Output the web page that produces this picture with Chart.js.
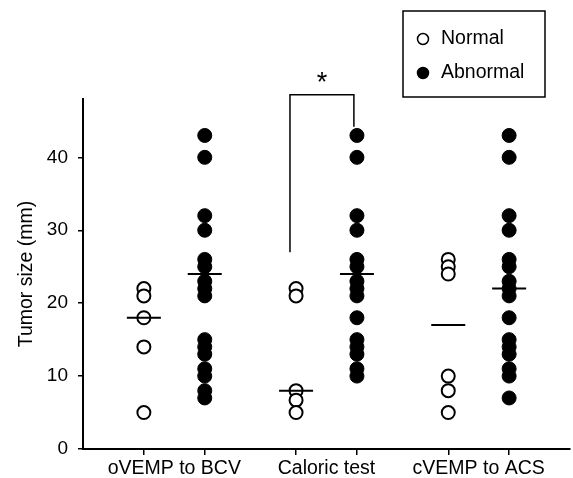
<!DOCTYPE html>
<html>
<head>
<meta charset="utf-8">
<script src="https://cdn.jsdelivr.net/npm/chart.js@4.4.1/dist/chart.umd.min.js"></script>
<style>
  html, body { margin: 0; padding: 0; background: #fff; }
</style>
</head>
<body>
<canvas id="tumorChart" width="573" height="478"></canvas>
<script>
// categories and column positions on the x scale
var groupLabels = ['oVEMP to BCV', 'Caloric test', 'cVEMP to ACS'];
var normalX = [1, 3.5, 6];
var abnormalX = [2, 4.5, 7];

// tumor sizes (mm)
var normalOVEMP = [22, 21, 18, 14, 5];
var abnormalOVEMP = [43, 40, 32, 30, 26, 25, 23, 22, 21, 15, 14, 13, 11, 10, 8, 7];
var normalCaloric = [22, 21, 8, 6.7, 5];
var abnormalCaloric = [43, 40, 32, 30, 26, 25, 23, 22, 21, 18, 15, 14, 13, 11, 10];
var normalCVEMP = [26, 25, 24, 10, 8, 5];
var abnormalCVEMP = [43, 40, 32, 30, 26, 25, 23, 22, 21, 18, 15, 14, 13, 11, 10, 7];

// median bars
var medianNormal = [18, 8, 17];
var medianAbnormal = [24, 24, 22];

var yTicks = [0, 10, 20, 30, 40];

// significance bracket (data units)
var bracketX = [3.4, 3.4, 4.45, 4.45];
var bracketY = [27, 48.6, 48.6, 44.2];
var sigLabel = '*';

function toPoints(x, values) {
  return values.map(function(v) { return { x: x, y: v }; });
}

var normalGroups = [normalOVEMP, normalCaloric, normalCVEMP];
var abnormalGroups = [abnormalOVEMP, abnormalCaloric, abnormalCVEMP];
var normalPoints = [], abnormalPoints = [], medianPoints = [];
for (var i = 0; i < groupLabels.length; i++) {
  normalPoints = normalPoints.concat(toPoints(normalX[i], normalGroups[i]));
  abnormalPoints = abnormalPoints.concat(toPoints(abnormalX[i], abnormalGroups[i]));
  medianPoints.push({ x: normalX[i], y: medianNormal[i] });
  medianPoints.push({ x: abnormalX[i], y: medianAbnormal[i] });
}

var groupCenters = normalX.map(function(x, i) { return (x + abnormalX[i]) / 2; });
var xTickValues = normalX.concat(abnormalX, groupCenters).sort(function(a, b) { return a - b; });

var bracketPoints = bracketX.map(function(x, i) { return { x: x, y: bracketY[i] }; });

var fontFamily = '"Liberation Sans", Arial, Helvetica, sans-serif';
Chart.defaults.font.family = fontFamily;
Chart.defaults.color = '#000';

var sigPlugin = {
  id: 'sigPlugin',
  afterDatasetsDraw: function(chart) {
    var ctx = chart.ctx;
    var xs = chart.scales.x, ys = chart.scales.y;
    var cx = xs.getPixelForValue((bracketX[0] + bracketX[2]) / 2);
    var cy = ys.getPixelForValue(bracketY[1]);
    ctx.save();
    ctx.fillStyle = '#000';
    ctx.font = '27px ' + fontFamily;
    ctx.textAlign = 'center';
    ctx.textBaseline = 'alphabetic';
    ctx.fillText(sigLabel, cx, cy - 4);
    ctx.restore();
  }
};

var legendPlugin = {
  id: 'boxLegend',
  afterDraw: function(chart) {
    var ctx = chart.ctx;
    var sets = [chart.data.datasets[1], chart.data.datasets[2]];
    ctx.save();
    ctx.strokeStyle = '#000';
    ctx.lineWidth = 1.5;
    ctx.strokeRect(403, 11, 142, 86);
    ctx.font = '19.5px ' + fontFamily;
    ctx.textBaseline = 'middle';
    ctx.textAlign = 'left';
    sets.forEach(function(ds, k) {
      var y = 39 + k * 34;
      ctx.beginPath();
      ctx.arc(423, y, 5.5, 0, Math.PI * 2);
      ctx.fillStyle = ds.backgroundColor;
      ctx.fill();
      ctx.lineWidth = 1.5;
      ctx.strokeStyle = '#000';
      ctx.stroke();
      ctx.fillStyle = '#000';
      ctx.fillText(ds.label, 441, y);
    });
    ctx.restore();
  }
};

new Chart(document.getElementById('tumorChart'), {
  type: 'scatter',
  data: {
    datasets: [
      {
        label: 'Median',
        data: medianPoints,
        pointStyle: 'line',
        pointRadius: 17,
        borderColor: '#000',
        borderWidth: 2,
        order: 0
      },
      {
        label: 'Normal',
        data: normalPoints,
        pointStyle: 'circle',
        pointRadius: 6.5,
        backgroundColor: '#fff',
        borderColor: '#000',
        borderWidth: 2,
        order: 1
      },
      {
        label: 'Abnormal',
        data: abnormalPoints,
        pointStyle: 'circle',
        pointRadius: 7,
        backgroundColor: '#000',
        borderColor: '#000',
        borderWidth: 1,
        order: 2
      },
      {
        type: 'line',
        label: 'bracket',
        data: bracketPoints,
        showLine: true,
        fill: false,
        pointRadius: 0,
        borderColor: '#000',
        borderWidth: 1.5,
        clip: false,
        order: 3
      }
    ]
  },
  options: {
    responsive: false,
    animation: false,
    devicePixelRatio: 1,
    layout: { autoPadding: false, padding: { top: 99, right: 3, left: 0, bottom: 0 } },
    plugins: {
      legend: { display: false },
      tooltip: { enabled: false }
    },
    scales: {
      x: {
        type: 'linear',
        min: 0,
        max: 8,
        afterBuildTicks: function(scale) {
          scale.ticks = xTickValues.map(function(v) { return { value: v }; });
        },
        afterFit: function(scale) { scale.height = 29; },
        ticks: {
          autoSkip: false,
          maxRotation: 0,
          padding: 2,
          font: { size: 19.5 },
          color: '#000',
          callback: function(value) {
            var idx = groupCenters.indexOf(value);
            return idx >= 0 ? groupLabels[idx] : '';
          }
        },
        grid: {
          drawOnChartArea: false,
          drawTicks: true,
          tickLength: 6,
          lineWidth: 1.5,
          color: function(ctx) {
            return (ctx.tick && groupCenters.indexOf(ctx.tick.value) >= 0) ? 'rgba(0,0,0,0)' : '#000';
          }
        },
        border: { display: true, color: '#000', width: 2 }
      },
      y: {
        min: 0,
        max: 48,
        afterBuildTicks: function(scale) {
          scale.ticks = yTicks.map(function(v) { return { value: v }; });
        },
        afterFit: function(scale) { scale.width = 83; },
        ticks: {
          padding: 10,
          font: { size: 19 },
          color: '#000'
        },
        grid: {
          drawOnChartArea: false,
          drawTicks: true,
          tickLength: 5,
          lineWidth: 1.5,
          color: '#000'
        },
        border: { display: true, color: '#000', width: 2 },
        title: {
          display: true,
          text: 'Tumor size (mm)',
          font: { size: 19.5 },
          color: '#000',
          padding: { top: 15, bottom: 0 }
        }
      }
    }
  },
  plugins: [sigPlugin, legendPlugin]
});
</script>
</body>
</html>
